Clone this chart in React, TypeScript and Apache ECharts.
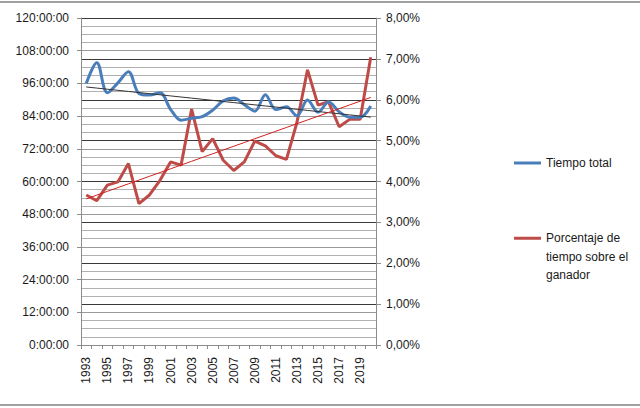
import React, { useEffect, useRef } from "react";
import * as echarts from "echarts";

const years = [
  "1993", "1994", "1995", "1996", "1997", "1998", "1999", "2000", "2001", "2002",
  "2003", "2004", "2005", "2006", "2007", "2008", "2009", "2010", "2011", "2012",
  "2013", "2014", "2015", "2016", "2017", "2018", "2019", "2020",
];

// Tiempo total (hours)
const tiempoTotal = [
  96.0, 103.6, 92.6, 96.2, 100.3, 92.3, 91.7, 92.6, 86.5, 82.5,
  83.2, 83.8, 86.2, 89.6, 90.6, 88.2, 85.8, 91.8, 86.4, 87.4,
  84.1, 89.9, 85.4, 89.2, 85.6, 83.6, 83.6, 87.7,
];

// Porcentaje de tiempo sobre el ganador (%)
const porcentaje = [
  3.67, 3.53, 3.91, 3.99, 4.44, 3.46, 3.67, 4.03, 4.48, 4.40,
  5.77, 4.73, 5.05, 4.52, 4.27, 4.48, 4.99, 4.87, 4.63, 4.54,
  5.45, 6.73, 5.87, 5.95, 5.34, 5.52, 5.52, 7.04,
];

const leftTicks = { min: 0, max: 120, interval: 12 };
const rightTicks = { min: 0, max: 8, interval: 1 };

const seriesNames = ["Tiempo total", "Porcentaje de tiempo sobre el ganador"];

function linearTrend(values: number[]): number[] {
  const n = values.length;
  let sx = 0, sy = 0, sxy = 0, sxx = 0;
  values.forEach((v, i) => {
    sx += i; sy += v; sxy += i * v; sxx += i * i;
  });
  const b = (n * sxy - sx * sy) / (n * sxx - sx * sx);
  const a = (sy - b * sx) / n;
  return values.map((_, i) => a + b * i);
}

export default function App() {
  const ref = useRef<HTMLDivElement>(null);

  useEffect(() => {
    document.body.style.margin = "0";
    const chart = echarts.init(ref.current!, null, { renderer: "svg" });
    const font = "Liberation Sans, Arial, sans-serif";
    const blue = "#4a7ebb";
    const red = "#be4b48";

    chart.setOption({
      animation: false,
      backgroundColor: "#ffffff",
      textStyle: { fontFamily: font },
      grid: { left: 81, right: 264, top: 18, bottom: 63, containLabel: false },
      legend: [
        {
          data: [seriesNames[0]],
          orient: "vertical",
          left: 514,
          top: 157,
          padding: 0,
          icon: "rect",
          itemWidth: 27,
          itemHeight: 3,
          itemGap: 2,
          textStyle: { fontFamily: font, fontSize: 12, color: "#1a1a1a" },
        },
        {
          data: [seriesNames[1]],
          orient: "vertical",
          left: 514,
          top: 192,
          padding: 0,
          icon: "rect",
          itemWidth: 27,
          itemHeight: 3,
          itemGap: 2,
          formatter: () => "\n\nPorcentaje de\ntiempo sobre el\nganador",
          textStyle: {
            fontFamily: font,
            fontSize: 12,
            color: "#1a1a1a",
            lineHeight: 18.5,
          },
        },
      ],
      xAxis: {
        type: "category",
        data: years,
        boundaryGap: true,
        axisLine: { lineStyle: { color: "#8c8c8c", width: 1 } },
        axisTick: { show: true, interval: 0, length: 4, lineStyle: { color: "#8c8c8c" } },
        axisLabel: {
          interval: 1,
          rotate: 90,
          margin: 12,
          fontSize: 12,
          color: "#1a1a1a",
          fontFamily: font,
        },
        splitLine: { show: false },
      },
      yAxis: [
        {
          type: "value",
          min: leftTicks.min,
          max: leftTicks.max,
          interval: leftTicks.interval,
          position: "left",
          axisLine: { show: true, lineStyle: { color: "#8c8c8c" } },
          axisTick: { show: true, length: 4, lineStyle: { color: "#8c8c8c" } },
          axisLabel: {
            formatter: (v: number) => `${v}:00:00`,
            fontSize: 12,
            color: "#1a1a1a",
            margin: 12,
            fontFamily: font,
          },
          splitLine: { show: true, lineStyle: { color: "#9a9a9a", width: 1 } },
          minorTick: { show: false, splitNumber: 4 },
          minorSplitLine: { show: true, lineStyle: { color: "#b0b0b0", width: 1 } },
        },
        {
          type: "value",
          min: rightTicks.min,
          max: rightTicks.max,
          interval: rightTicks.interval,
          position: "right",
          axisLine: { show: true, lineStyle: { color: "#8c8c8c" } },
          axisTick: { show: true, length: 5, lineStyle: { color: "#8c8c8c" } },
          axisLabel: {
            formatter: (v: number) => `${v.toFixed(2).replace(".", ",")}%`,
            fontSize: 12,
            color: "#1a1a1a",
            margin: 10,
            fontFamily: font,
          },
          splitLine: { show: true, lineStyle: { color: "#3a3a3a", width: 1 } },
        },
      ],
      series: [
        {
          name: seriesNames[0],
          type: "line",
          yAxisIndex: 0,
          data: tiempoTotal,
          smooth: 0.35,
          symbol: "none",
          lineStyle: { color: blue, width: 3 },
          itemStyle: { color: blue },
          z: 4,
        },
        {
          name: seriesNames[1],
          type: "line",
          yAxisIndex: 1,
          data: porcentaje,
          symbol: "none",
          lineStyle: { color: red, width: 3 },
          itemStyle: { color: red },
          z: 3,
        },
        {
          name: "Lineal (Tiempo total)",
          type: "line",
          yAxisIndex: 0,
          data: linearTrend(tiempoTotal),
          symbol: "none",
          lineStyle: { color: "#333333", width: 1 },
          itemStyle: { color: "#333333" },
          z: 5,
        },
        {
          name: "Lineal (Porcentaje)",
          type: "line",
          yAxisIndex: 1,
          data: linearTrend(porcentaje),
          symbol: "none",
          lineStyle: { color: "#d02020", width: 1 },
          itemStyle: { color: "#d02020" },
          z: 5,
        },
      ],
      graphic: [
        { type: "line", shape: { x1: 0, y1: 2, x2: 640, y2: 2 }, style: { stroke: "#a0a0a0", lineWidth: 2 } },
        { type: "line", shape: { x1: 0, y1: 405, x2: 640, y2: 405 }, style: { stroke: "#a0a0a0", lineWidth: 2 } },
      ],
    });

    return () => chart.dispose();
  }, []);

  return (
    <div
      ref={ref}
      style={{ position: "absolute", left: 0, top: 0, width: 640, height: 408 }}
    />
  );
}
